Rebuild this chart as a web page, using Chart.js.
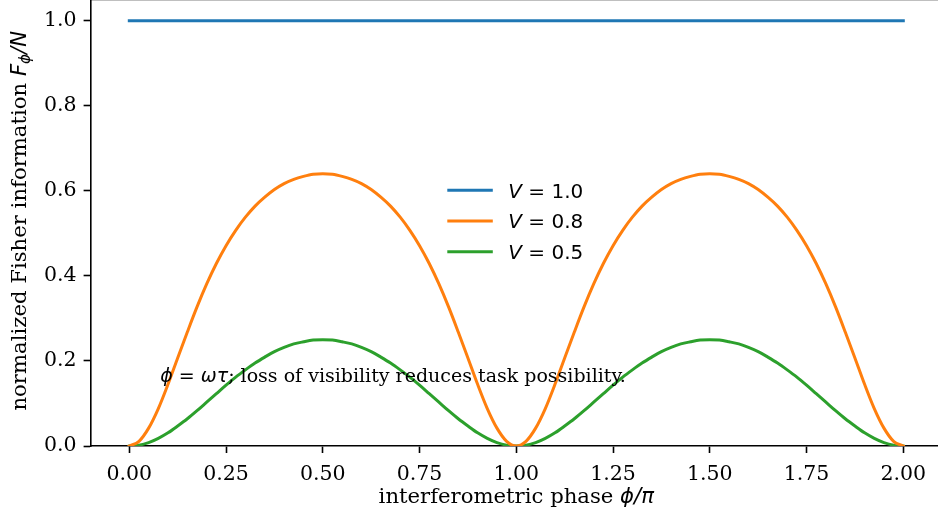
<!DOCTYPE html>
<html>
<head>
<meta charset="utf-8">
<script src="https://cdn.jsdelivr.net/npm/chart.js@4.4.1/dist/chart.umd.min.js"></script>
<style>
  html, body { margin: 0; padding: 0; background: #fff; overflow: hidden; width: 938px; height: 516px; }
  #wrap { position: absolute; left: 0; top: -2px; width: 946px; height: 520px; }
</style>
</head>
<body>
<div id="wrap"><canvas id="Chart"></canvas></div>
<script>
// phase phi/pi
var phase = [
    0, 0.025, 0.05, 0.075, 0.1, 0.125, 0.15, 0.175, 0.2, 0.225,
    0.25, 0.275, 0.3, 0.325, 0.35, 0.375, 0.4, 0.425, 0.45, 0.475,
    0.5, 0.525, 0.55, 0.575, 0.6, 0.625, 0.65, 0.675, 0.7, 0.725,
    0.75, 0.775, 0.8, 0.825, 0.85, 0.875, 0.9, 0.925, 0.95, 0.975,
    1.0, 1.025, 1.05, 1.075, 1.1, 1.125, 1.15, 1.175, 1.2, 1.225,
    1.25, 1.275, 1.3, 1.325, 1.35, 1.375, 1.4, 1.425, 1.45, 1.475,
    1.5, 1.525, 1.55, 1.575, 1.6, 1.625, 1.65, 1.675, 1.7, 1.725,
    1.75, 1.775, 1.8, 1.825, 1.85, 1.875, 1.9, 1.925, 1.95, 1.975,
    2.0
];

var fisherV10 = [
    1, 1, 1, 1, 1, 1, 1, 1, 1, 1,
    1, 1, 1, 1, 1, 1, 1, 1, 1, 1,
    1, 1, 1, 1, 1, 1, 1, 1, 1, 1,
    1, 1, 1, 1, 1, 1, 1, 1, 1, 1,
    1, 1, 1, 1, 1, 1, 1, 1, 1, 1,
    1, 1, 1, 1, 1, 1, 1, 1, 1, 1,
    1, 1, 1, 1, 1, 1, 1, 1, 1, 1,
    1, 1, 1, 1, 1, 1, 1, 1, 1, 1,
    1
];

var fisherV08 = [
    0, 0.011, 0.042, 0.088, 0.145, 0.207, 0.268, 0.327, 0.381, 0.429,
    0.471, 0.507, 0.538, 0.564, 0.585, 0.603, 0.617, 0.627, 0.634, 0.639,
    0.640, 0.639, 0.634, 0.627, 0.617, 0.603, 0.585, 0.564, 0.538, 0.507,
    0.471, 0.429, 0.381, 0.327, 0.268, 0.207, 0.145, 0.088, 0.042, 0.011,
    0, 0.011, 0.042, 0.088, 0.145, 0.207, 0.268, 0.327, 0.381, 0.429,
    0.471, 0.507, 0.538, 0.564, 0.585, 0.603, 0.617, 0.627, 0.634, 0.639,
    0.640, 0.639, 0.634, 0.627, 0.617, 0.603, 0.585, 0.564, 0.538, 0.507,
    0.471, 0.429, 0.381, 0.327, 0.268, 0.207, 0.145, 0.088, 0.042, 0.011,
    0
];

var fisherV05 = [
    0, 0.002, 0.008, 0.018, 0.031, 0.047, 0.064, 0.083, 0.103, 0.123,
    0.143, 0.162, 0.179, 0.195, 0.209, 0.222, 0.232, 0.240, 0.245, 0.249,
    0.250, 0.249, 0.245, 0.240, 0.232, 0.222, 0.209, 0.195, 0.179, 0.162,
    0.143, 0.123, 0.103, 0.083, 0.064, 0.047, 0.031, 0.018, 0.008, 0.002,
    0, 0.002, 0.008, 0.018, 0.031, 0.047, 0.064, 0.083, 0.103, 0.123,
    0.143, 0.162, 0.179, 0.195, 0.209, 0.222, 0.232, 0.240, 0.245, 0.249,
    0.250, 0.249, 0.245, 0.240, 0.232, 0.222, 0.209, 0.195, 0.179, 0.162,
    0.143, 0.123, 0.103, 0.083, 0.064, 0.047, 0.031, 0.018, 0.008, 0.002,
    0
];

var visLabels = ['1.0', '0.8', '0.5'];
var xTicks = [0, 0.25, 0.5, 0.75, 1.0, 1.25, 1.5, 1.75, 2.0];
var yTicks = [0, 0.2, 0.4, 0.6, 0.8, 1.0];

var colors = ['#1f77b4', '#ff7f0e', '#2ca02c'];

var SERIF = '"DejaVu Serif"';
var SANS = '"DejaVu Sans"';

function toPoints(ys) {
    return phase.map(function(x, i) { return {x: x, y: ys[i]}; });
}

// draw a row of text pieces with different fonts
function drawRuns(ctx, runs, x, y, align) {
    var total = 0;
    runs.forEach(function(r) {
        ctx.font = r.font;
        r.w = ctx.measureText(r.text).width;
        total += r.w;
    });
    var cx = align === 'center' ? x - total / 2 : x;
    ctx.textBaseline = 'alphabetic';
    ctx.textAlign = 'left';
    runs.forEach(function(r) {
        ctx.font = r.font;
        ctx.fillText(r.text, cx, y + (r.dy || 0));
        cx += r.w;
    });
}

// no extra room for tick labels, the axes box is placed by hand
function noPadding(scale) {
    scale.paddingTop = 0;
    scale.paddingBottom = 0;
    scale.paddingLeft = 0;
    scale.paddingRight = 0;
}

var extras = {
    id: 'extras',
    afterDraw: function(chart) {
        var ctx = chart.ctx;
        var a = chart.chartArea;
        var xs = chart.scales.x, ys = chart.scales.y;
        ctx.save();
        ctx.fillStyle = '#000';

        // top spine (mostly cut off at the top edge)
        ctx.strokeStyle = '#000';
        ctx.lineWidth = 1.6;
        ctx.beginPath();
        ctx.moveTo(a.left, a.top);
        ctx.lineTo(a.right, a.top);
        ctx.stroke();

        // x title
        drawRuns(ctx, [
            {text: 'interferometric phase ', font: '21.2px ' + SERIF},
            {text: 'ϕ/π', font: 'italic 21.2px ' + SANS}
        ], (a.left + a.right) / 2, 505.3, 'center');

        // y title
        ctx.save();
        ctx.translate(25.5, 222.8);
        ctx.rotate(-Math.PI / 2);
        drawRuns(ctx, [
            {text: 'normalized Fisher information ', font: '21.2px ' + SERIF},
            {text: 'F', font: 'italic 21.2px ' + SANS},
            {text: 'ϕ', font: 'italic 15px ' + SANS, dy: 4},
            {text: '/N', font: 'italic 21.2px ' + SANS}
        ], 0, 0, 'center');
        ctx.restore();

        // annotation in data coordinates
        drawRuns(ctx, [
            {text: 'ϕ', font: 'italic 19px ' + SANS},
            {text: ' = ', font: '19px ' + SANS},
            {text: 'ωτ', font: 'italic 19px ' + SANS},
            {text: '; loss of visibility reduces task possibility.', font: '19px ' + SERIF}
        ], xs.getPixelForValue(0.08), ys.getPixelForValue(0.15), 'left');

        // legend, no frame, centred in the axes
        var cx = (a.left + a.right) / 2, cy = (a.top + a.bottom) / 2;
        var rows = [-32.5, -1.8, 29];
        chart.data.datasets.forEach(function(ds, i) {
            var ry = cy + rows[i];
            ctx.strokeStyle = ds.borderColor;
            ctx.lineWidth = 3;
            ctx.beginPath();
            ctx.moveTo(cx - 69, ry);
            ctx.lineTo(cx - 23.5, ry);
            ctx.stroke();
            drawRuns(ctx, [
                {text: 'V', font: 'italic 20px ' + SANS},
                {text: ' = ' + visLabels[i], font: '20px ' + SANS}
            ], cx - 8, ry + 7.5, 'left');
        });
        ctx.restore();
    }
};

var ctx = document.getElementById('Chart');
var datasets = [fisherV10, fisherV08, fisherV05].map(function(ys, i) {
    return {
        label: 'V = ' + visLabels[i],
        data: toPoints(ys),
        borderColor: colors[i],
        backgroundColor: colors[i],
        borderWidth: 3,
        borderCapStyle: 'square',
        pointRadius: 0,
        cubicInterpolationMode: 'monotone',
        fill: false
    };
});

window.myChart = new Chart(ctx, {
    type: 'line',
    data: { datasets: datasets },
    plugins: [extras],
    options: {
        responsive: true,
        maintainAspectRatio: false,
        animation: false,
        events: [],
        layout: { padding: { top: 1.4, right: 4, left: 0, bottom: 0 } },
        plugins: {
            legend: { display: false },
            tooltip: { enabled: false }
        },
        scales: {
            x: {
                type: 'linear',
                min: -0.1,
                max: 2.1,
                afterBuildTicks: function(scale) {
                    scale.ticks = xTicks.map(function(v) { return {value: v}; });
                },
                afterFit: function(scale) { scale.height = 72; noPadding(scale); },
                grid: {
                    drawOnChartArea: false,
                    drawTicks: true,
                    tickLength: 7,
                    tickWidth: 1.6,
                    tickColor: '#000'
                },
                border: { display: true, color: '#000', width: 1.6 },
                ticks: {
                    color: '#000',
                    padding: 9,
                    maxRotation: 0,
                    autoSkip: false,
                    font: { family: 'DejaVu Serif', size: 20.5 },
                    callback: function(v) { return v.toFixed(2); }
                }
            },
            y: {
                type: 'linear',
                min: 0,
                max: 1.05,
                afterBuildTicks: function(scale) {
                    scale.ticks = yTicks.map(function(v) { return {value: v}; });
                },
                afterFit: function(scale) { scale.width = 90.6; noPadding(scale); },
                grid: {
                    drawOnChartArea: false,
                    drawTicks: true,
                    tickLength: 7,
                    tickWidth: 1.6,
                    tickColor: '#000'
                },
                border: { display: true, color: '#000', width: 1.6 },
                ticks: {
                    color: '#000',
                    padding: 7,
                    autoSkip: false,
                    font: { family: 'DejaVu Serif', size: 20.5 },
                    callback: function(v) { return v.toFixed(1); }
                }
            }
        }
    }
});
</script>
</body>
</html>
